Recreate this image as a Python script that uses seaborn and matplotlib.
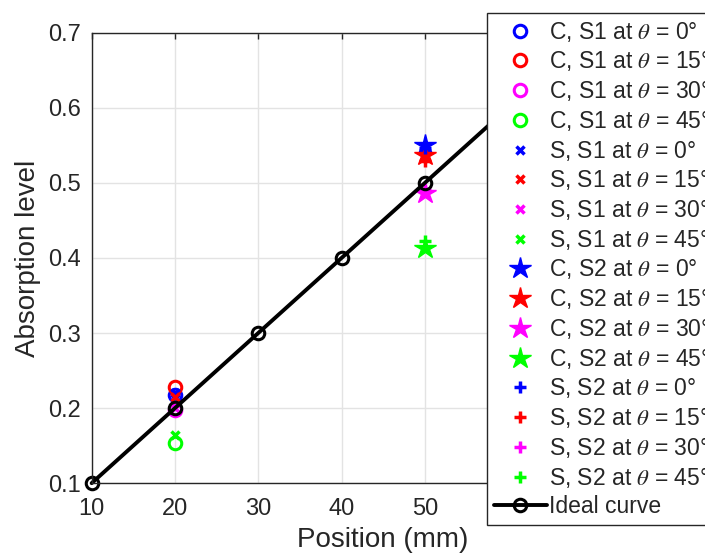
import matplotlib
matplotlib.use('Agg')
import matplotlib.pyplot as plt
import seaborn as sns

# ------------------------- data -------------------------
angles = [0, 15, 30, 45]
colors = ['#0000ff', '#ff0000', '#ff00ff', '#00ff00']

# sensor S1 at position 20 mm, sensor S2 at position 50 mm
pos_s1 = 20
pos_s2 = 50
c_s1 = [0.217, 0.228, 0.197, 0.153]
s_s1 = [0.220, 0.215, 0.200, 0.164]
c_s2 = [0.550, 0.537, 0.487, 0.413]
s_s2 = [0.546, 0.529, 0.490, 0.423]

ideal_x = [10, 20, 30, 40, 50, 60, 70]
ideal_y = [0.1, 0.2, 0.3, 0.4, 0.5, 0.6, 0.7]

x_ticks = [10, 20, 30, 40, 50, 60, 70, 80]
# 60..80 sit behind the legend in the original
x_ticklabels = ['10', '20', '30', '40', '50', '', '', '']
y_ticks = [0.1, 0.2, 0.3, 0.4, 0.5, 0.6, 0.7]
y_ticklabels = ['0.1', '0.2', '0.3', '0.4', '0.5', '0.6', '0.7']
# ---------------------------------------------------------------------------

sns.set_theme(style='whitegrid')
plt.rcParams['font.family'] = ['Liberation Sans', 'DejaVu Sans']
plt.rcParams['mathtext.fontset'] = 'stix'

fig = plt.figure(figsize=(7.05, 5.56), dpi=100)
# axes runs 10..80 in x, the right part sits behind the legend
ax = fig.add_axes([0.130, 0.131, 0.827, 0.810])


def add_series(x, y, marker, color, label, size, mew):
    sns.lineplot(x=[x], y=[y], ax=ax, marker=marker, linestyle='',
                 color=color, markersize=size, markeredgewidth=mew,
                 markerfacecolor='none' if marker == 'o' else color,
                 markeredgecolor=color, errorbar=None, label=label)


for a, col, v in zip(angles, colors, c_s1):
    add_series(pos_s1, v, 'o', col, r'C, S1 at $\theta$ = %d°' % a, 9, 2.2)
for a, col, v in zip(angles, colors, s_s1):
    add_series(pos_s1, v, 'x', col, r'S, S1 at $\theta$ = %d°' % a, 6, 2.5)
for a, col, v in zip(angles, colors, c_s2):
    add_series(pos_s2, v, '*', col, r'C, S2 at $\theta$ = %d°' % a, 16, 1)
for a, col, v in zip(angles, colors, s_s2):
    add_series(pos_s2, v, '+', col, r'S, S2 at $\theta$ = %d°' % a, 8, 2.5)

sns.lineplot(x=ideal_x, y=ideal_y, ax=ax, color='black', linewidth=2.8,
             marker='o', markersize=9, markerfacecolor='none',
             markeredgecolor='black', markeredgewidth=2.2,
             errorbar=None, label='Ideal curve', clip_on=False)

ax.set_xlim(10, 80)
ax.set_ylim(0.1, 0.7)
ax.set_xticks(x_ticks)
ax.set_xticklabels(x_ticklabels)
ax.set_yticks(y_ticks)
ax.set_yticklabels(y_ticklabels)
ax.grid(True, color='#e3e3e3', linewidth=1)
ax.tick_params(direction='in', top=True, right=True, length=4, width=1,
               color='#262626', labelcolor='#262626', labelsize=17)
ax.tick_params(axis='x', pad=11)
ax.tick_params(axis='y', pad=7.5)
for sp in ax.spines.values():
    sp.set_color('#262626')
    sp.set_linewidth(1)

ax.set_xlabel('Position (mm)', fontsize=20, color='#262626', labelpad=5)
ax.set_ylabel('Absorption level', fontsize=20, color='#262626', labelpad=5)

leg = ax.legend(loc='upper left', bbox_to_anchor=(0.691, 0.977),
                bbox_transform=fig.transFigure, fontsize=16.5, frameon=True,
                fancybox=False, edgecolor='#262626', framealpha=1,
                borderpad=0.3, labelspacing=0.25, handlelength=2.3,
                handletextpad=0.1, borderaxespad=0)
leg.get_frame().set_linewidth(1)
for t in leg.get_texts():
    t.set_color('#262626')

fig.savefig('out.png', dpi=100)
